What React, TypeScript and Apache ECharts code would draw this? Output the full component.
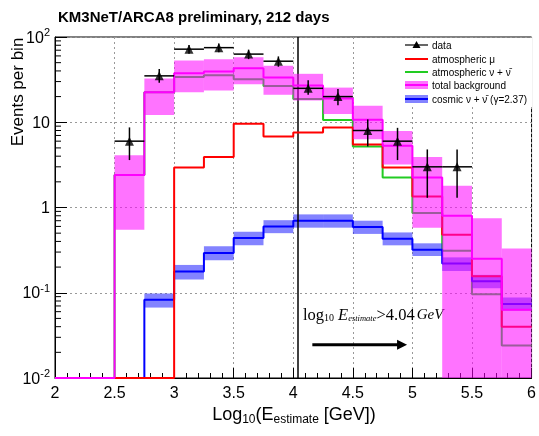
import React, { useEffect, useRef } from "react";
import * as echarts from "echarts";

// ---- data ----
const binEdges = [2.0, 2.25, 2.5, 2.75, 3.0, 3.25, 3.5, 3.75, 4.0, 4.25, 4.5, 4.75, 5.0, 5.25, 5.5, 5.75, 6.0];
const dataCounts = [null, null, 6, 35, 72, 75, 63, 52, 25, 20, 8, 6, 3, 3, null, null];
const dataErrLow = [null, null, 3.6, 29, 63.5, 66.3, 55, 44.8, 21, 15.8, 5.2, 3.6, 1.3, 1.3, null, null];
const dataErrHigh = [null, null, 8.7, 42, 80.5, 83.7, 71, 59.2, 31, 24.5, 10.8, 8.6, 4.8, 4.8, null, null];
const totalBkg = [0, 0, 2.4, 22.5, 37.5, 39.5, 43, 33.5, 27, 19, 10.7, 5.3, 2.25, 0.8, 0.25, 0.063];
const totalBkgLow = [0, 0, 0.55, 12.2, 22.5, 23.5, 28, 21, 18, 12.5, 6.3, 3.2, 0.58, 0, 0, 0];
const totalBkgHigh = [0, 0, 4.1, 32.5, 53, 55, 58, 46, 37, 25.5, 15.6, 7.9, 3.9, 1.8, 0.75, 0.33];
const atmMu = [0, 0, 0, 0, 2.95, 3.9, 9.6, 6.8, 7.6, 8.7, 5.5, 2.95, 1.35, 0.48, 0.156, 0.04];
const atmNu = [0, 0, 2.4, 22.5, 34, 35.5, 32, 26.7, 18.7, 10.6, 5.2, 2.25, 0.86, 0.31, 0.096, 0.024];
const cosmic = [0, 0, 0, 0.083, 0.178, 0.293, 0.44, 0.6, 0.7, 0.7, 0.59, 0.43, 0.32, 0.22, 0.136, 0.074];
const cosmicLow = [0, 0, 0, 0.067, 0.143, 0.24, 0.36, 0.5, 0.58, 0.58, 0.49, 0.36, 0.27, 0.18, 0.113, 0.062];
const cosmicHigh = [0, 0, 0, 0.098, 0.212, 0.35, 0.52, 0.71, 0.83, 0.83, 0.7, 0.51, 0.38, 0.26, 0.162, 0.088];
const cutValue = 4.04;
const arrowRange = [4.16, 4.955];
const arrowLevel = 0.0245;
const legendLabels = ["data", "atmospheric \u03bc", "atmospheric \u03bd + \u03bd\u0304", "total background", "cosmic \u03bd + \u03bd\u0304 (\u03b3=2.37)"];

const X_MIN = 2, X_MAX = 6, Y_MIN = 0.01, Y_MAX = 100;
const FONT = "Liberation Sans, Arial, Helvetica, sans-serif";
const SERIF = "Liberation Serif, Times New Roman, serif";

function histLine(values: number[]) {
  const pts: number[][] = [];
  for (let i = 0; i < values.length; i++) {
    const v = Math.max(values[i], Y_MIN);
    pts.push([binEdges[i], v], [binEdges[i + 1], v]);
  }
  return pts;
}

function bandData(lo: number[], hi: number[]) {
  const out: number[][] = [];
  for (let i = 0; i < lo.length; i++) {
    if (hi[i] > 0) out.push([binEdges[i], binEdges[i + 1], Math.max(lo[i], Y_MIN), hi[i]]);
  }
  return out;
}

const minorTickValues: number[] = [];
for (let e = -2; e < 2; e++) for (let m = 2; m <= 9; m++) minorTickValues.push(m * Math.pow(10, e));

export default function App() {
  const ref = useRef<HTMLDivElement>(null);
  useEffect(() => {
    if (!ref.current) return;
    const chart = echarts.init(ref.current, undefined, { renderer: "svg" });

    const bandSeries = (name: string, lo: number[], hi: number[], color: string, z: number) => ({
      name,
      type: "custom",
      z,
      silent: true,
      clip: true,
      data: bandData(lo, hi),
      encode: { x: [0, 1], y: [2, 3] },
      renderItem: (params: any, api: any) => {
        const p0 = api.coord([api.value(0), api.value(3)]);
        const p1 = api.coord([api.value(1), api.value(2)]);
        return {
          type: "rect",
          shape: { x: p0[0], y: p0[1], width: p1[0] - p0[0], height: p1[1] - p0[1] },
          style: { fill: color },
        };
      },
    });

    const lineSeries = (name: string, values: number[], color: string, z: number) => ({
      name,
      type: "line",
      z,
      silent: true,
      data: histLine(values),
      symbol: "none",
      clip: false,
      lineStyle: { color, width: 2 },
    });

    const errData: any[] = [];
    const pointData: any[] = [];
    for (let i = 0; i < dataCounts.length; i++) {
      const v = dataCounts[i];
      if (v == null) continue;
      errData.push([binEdges[i], binEdges[i + 1], v, dataErrLow[i], dataErrHigh[i]]);
      pointData.push([(binEdges[i] + binEdges[i + 1]) / 2, v]);
    }

    const yLabel = (v: number) => {
      const e = Math.round(Math.log10(v));
      if (e === 0) return "{b|1}";
      if (e === 1) return "{b|10}";
      return `{b|10}{s|${e}}`;
    };

    const option: any = {
      animation: false,
      grid: { left: 55, right: 6, top: 37, bottom: 58, show: true, borderColor: "#000", borderWidth: 1, backgroundColor: "transparent" },
      xAxis: {
        type: "value",
        min: X_MIN,
        max: X_MAX,
        interval: 0.5,
        axisLine: { show: true, lineStyle: { color: "#000", width: 1 } },
        axisTick: { show: true, inside: true, length: 10, lineStyle: { color: "#000" } },
        minorTick: { show: true, splitNumber: 5, length: 5, lineStyle: { color: "#000" } },
        splitLine: { show: true, lineStyle: { color: "#999", type: [2, 3], width: 1 } },
        axisLabel: {
          fontSize: 16,
          color: "#000",
          fontFamily: FONT,
          margin: 6,
          showMinLabel: true,
          showMaxLabel: true,
          hideOverlap: false,
          formatter: (v: number) => String(v),
        },
      },
      yAxis: {
        type: "log",
        logBase: 10,
        min: Y_MIN,
        max: Y_MAX,
        splitNumber: 4,
        axisLine: { show: true, lineStyle: { color: "#000", width: 1 } },
        axisTick: { show: true, inside: true, length: 12, lineStyle: { color: "#000" } },
        splitLine: { show: true, lineStyle: { color: "#999", type: [2, 3], width: 1 } },
        axisLabel: {
          color: "#000",
          margin: 5,
          showMinLabel: true,
          showMaxLabel: true,
          formatter: yLabel,
          rich: {
            b: { fontSize: 16, fontFamily: FONT, color: "#000" },
            s: { fontSize: 11, fontFamily: FONT, color: "#000", padding: [0, 0, 10, 0] },
          },
        },
      },
      series: [
        {
          name: "minorTicks",
          type: "custom",
          z: 1,
          silent: true,
          data: minorTickValues.map((v) => [X_MIN, v]),
          encode: { x: 0, y: 1 },
          renderItem: (params: any, api: any) => {
            const p = api.coord([api.value(0), api.value(1)]);
            return {
              type: "line",
              shape: { x1: p[0], y1: p[1], x2: p[0] + 6, y2: p[1] },
              style: { stroke: "#000", lineWidth: 1 },
            };
          },
        },
        lineSeries("atmospheric nu", atmNu, "#22cc22", 2),
        bandSeries("cosmic band", cosmicLow, cosmicHigh, "rgba(30,30,255,0.55)", 3),
        lineSeries("cosmic", cosmic, "#0000ff", 4),
        lineSeries("atmospheric mu", atmMu, "#ff0000", 5),
        bandSeries("total band", totalBkgLow, totalBkgHigh, "rgba(255,0,255,0.55)", 6),
        {
          ...lineSeries("total background", totalBkg, "#ff00ff", 7),
          markLine: {
            silent: true,
            symbol: "none",
            label: { show: false },
            lineStyle: { color: "#000", type: "solid", width: 1.5 },
            data: [{ xAxis: cutValue }],
          },
        },
        {
          name: "data errors",
          type: "custom",
          z: 9,
          silent: true,
          data: errData,
          encode: { x: [0, 1], y: [2, 3, 4] },
          renderItem: (params: any, api: any) => {
            const x0 = api.value(0), x1 = api.value(1), v = api.value(2), lo = api.value(3), hi = api.value(4);
            const a = api.coord([x0, v]);
            const b = api.coord([x1, v]);
            const c = api.coord([(x0 + x1) / 2, lo]);
            const d = api.coord([(x0 + x1) / 2, hi]);
            return {
              type: "group",
              children: [
                { type: "line", shape: { x1: a[0], y1: a[1], x2: b[0], y2: b[1] }, style: { stroke: "#000", lineWidth: 1.5 } },
                { type: "line", shape: { x1: c[0], y1: c[1], x2: d[0], y2: d[1] }, style: { stroke: "#000", lineWidth: 1.5 } },
              ],
            };
          },
        },
        {
          name: "data",
          type: "scatter",
          z: 10,
          silent: true,
          symbol: "triangle",
          symbolSize: 9,
          itemStyle: { color: "#000" },
          data: pointData,
        },
      ],
    };
    chart.setOption(option);

    const a0 = chart.convertToPixel({ gridIndex: 0 }, [arrowRange[0], arrowLevel]) as number[];
    const a1 = chart.convertToPixel({ gridIndex: 0 }, [arrowRange[1], arrowLevel]) as number[];

    const lx0 = 405, lx1 = 428, ltx = 432;
    const ly = [45, 59, 72, 85, 99];
    const legendColors = ["#000", "#ff0000", "#22cc22", "#ff00ff", "#0000ff"];
    const legendChildren: any[] = [
      { type: "rect", shape: { x: 398, y: 38, width: 134, height: 69 }, style: { fill: "#fff" }, z: 100 },
    ];
    legendLabels.forEach((t, i) => {
      if (i === 3) legendChildren.push({ type: "rect", shape: { x: lx0, y: ly[i] - 4, width: lx1 - lx0, height: 8 }, style: { fill: "rgba(255,0,255,0.55)" }, z: 101 });
      if (i === 4) legendChildren.push({ type: "rect", shape: { x: lx0, y: ly[i] - 4, width: lx1 - lx0, height: 8 }, style: { fill: "rgba(30,30,255,0.55)" }, z: 101 });
      legendChildren.push({
        type: "line",
        shape: { x1: lx0, y1: ly[i], x2: lx1, y2: ly[i] },
        style: { stroke: legendColors[i], lineWidth: i === 0 ? 1.2 : 2 },
        z: 102,
      });
      if (i === 0) {
        legendChildren.push({
          type: "polygon",
          shape: { points: [[(lx0 + lx1) / 2, ly[0] - 4], [(lx0 + lx1) / 2 - 4, ly[0] + 3], [(lx0 + lx1) / 2 + 4, ly[0] + 3]] },
          style: { fill: "#000" },
          z: 103,
        });
      }
      legendChildren.push({
        type: "text",
        x: ltx,
        y: ly[i],
        style: { text: t, font: `10px ${FONT}`, fill: "#000", textVerticalAlign: "middle", textAlign: "left" },
        z: 103,
      });
    });

    chart.setOption({
      graphic: [
        {
          type: "text",
          x: 58,
          y: 16,
          style: { text: "KM3NeT/ARCA8 preliminary, 212 days", font: `bold 15px ${FONT}`, fill: "#000", textVerticalAlign: "middle" },
        },
        {
          type: "text",
          x: 17,
          y: 92,
          rotation: Math.PI / 2,
          style: { text: "Events per bin", font: `17px ${FONT}`, fill: "#000", textAlign: "center", textVerticalAlign: "middle" },
        },
        {
          type: "text",
          x: 294,
          y: 414,
          style: {
            text: "Log{s|10}(E{s|estimate} [GeV])",
            font: `18px ${FONT}`,
            fill: "#000",
            textAlign: "center",
            textVerticalAlign: "middle",
            rich: {
              s: { fontSize: 12, fontFamily: FONT, fill: "#000", padding: [9, 0, 0, 0] },
            },
          },
        },
        {
          type: "text",
          x: 303,
          y: 314,
          style: {
            text: "log{s|10}{i|E}{is|estimate}>4.04{g|GeV}",
            font: `16.5px ${SERIF}`,
            fill: "#000",
            textAlign: "left",
            textVerticalAlign: "middle",
            rich: {
              s: { fontSize: 10, fontFamily: SERIF, fill: "#000", padding: [7, 4, 0, 0] },
              i: { fontSize: 16.5, fontFamily: SERIF, fontStyle: "italic", fill: "#000" },
              is: { fontSize: 8.5, fontFamily: SERIF, fontStyle: "italic", fill: "#000", padding: [8, 0, 0, 0] },
              g: { fontSize: 15, fontFamily: SERIF, fontStyle: "italic", fill: "#000", padding: [0, 0, 0, 2] },
            },
          },
        },
        {
          type: "line",
          shape: { x1: a0[0], y1: a0[1], x2: a1[0] - 8, y2: a1[1] },
          style: { stroke: "#000", lineWidth: 3 },
        },
        {
          type: "polygon",
          shape: { points: [[a1[0] - 10, a1[1] - 5], [a1[0], a1[1]], [a1[0] - 10, a1[1] + 5]] },
          style: { fill: "#000" },
        },
        { type: "group", children: legendChildren },
      ],
    });

    return () => chart.dispose();
  }, []);
  return <div ref={ref} style={{ position: "fixed", left: 0, top: 0, width: 539, height: 436 }} />;
}
